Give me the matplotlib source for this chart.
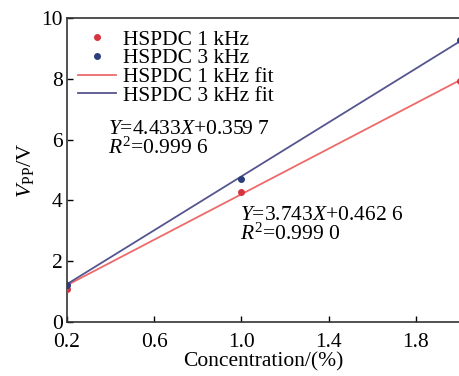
import numpy as np
import matplotlib.pyplot as plt

conc = [0.2, 1.0, 2.0]
v_1k = [1.09, 4.28, 7.93]
v_3k = [1.22, 4.70, 9.28]
fit_1k = (3.743, 0.4626)
fit_3k = (4.433, 0.3597)
xticks = [0.2, 0.6, 1.0, 1.4, 1.8]
yticks = [0, 2, 4, 6, 8, 10]

plt.rcParams["font.family"] = "Liberation Serif"
plt.rcParams["mathtext.fontset"] = "custom"
plt.rcParams["mathtext.rm"] = "Liberation Serif"
plt.rcParams["mathtext.it"] = "Liberation Serif:italic"

fig = plt.figure(figsize=(4.6, 3.76), dpi=100)
ax = fig.add_axes([0.1457, 0.1436, 0.8533, 0.8084])

xf = np.array([0.2, 2.0])
ax.plot(conc, v_1k, 'o', color='#d8333f', ms=4, label='HSPDC 1 kHz', zorder=3)
ax.plot(conc, v_3k, 'o', color='#2c3e7e', ms=4, label='HSPDC 3 kHz', zorder=3)
ax.plot(xf, fit_1k[0]*xf + fit_1k[1], '-', color='#ee6a6a', lw=1.3, label='HSPDC 1 kHz fit')
ax.plot(xf, fit_3k[0]*xf + fit_3k[1], '-', color='#55558f', lw=1.3, label='HSPDC 3 kHz fit')

ax.set_xlim(0.2, 2.0)
ax.set_ylim(0, 10)
ax.set_xticks(xticks)
ax.set_xticklabels(['0.2', '0.6', '1.0', '1.4', '1.8'])
ax.set_yticks(yticks)
ax.tick_params(direction='in', length=4, width=1, labelsize=15.5)
ax.tick_params(axis='x', pad=8)
ax.tick_params(axis='y', pad=3)
for s in ax.spines.values():
    s.set_linewidth(1.2)
    s.set_color('#333333')

ax.set_xlabel('Concentration/(%)', fontsize=15.5, labelpad=0)
ax.set_ylabel(r'$V_{\mathrm{PP}}$/V', fontsize=16, labelpad=4)

ax.legend(loc='upper left', fontsize=15.5, frameon=False, handlelength=1.75,
          handletextpad=0.35, labelspacing=-0.06, borderaxespad=0.2,
          bbox_to_anchor=(-0.005, 1.005))

ax.text(0.105, 0.60, r'$Y$=4.433$X$+0.359 7' + '\n' + r'$R^2$=0.999 6',
        transform=ax.transAxes, fontsize=15.5, linespacing=0.9, va='center')
ax.text(0.44, 0.318, r'$Y$=3.743$X$+0.462 6' + '\n' + r'$R^2$=0.999 0',
        transform=ax.transAxes, fontsize=15.5, linespacing=0.9, va='center')

fig.savefig('out.png', dpi=100)
